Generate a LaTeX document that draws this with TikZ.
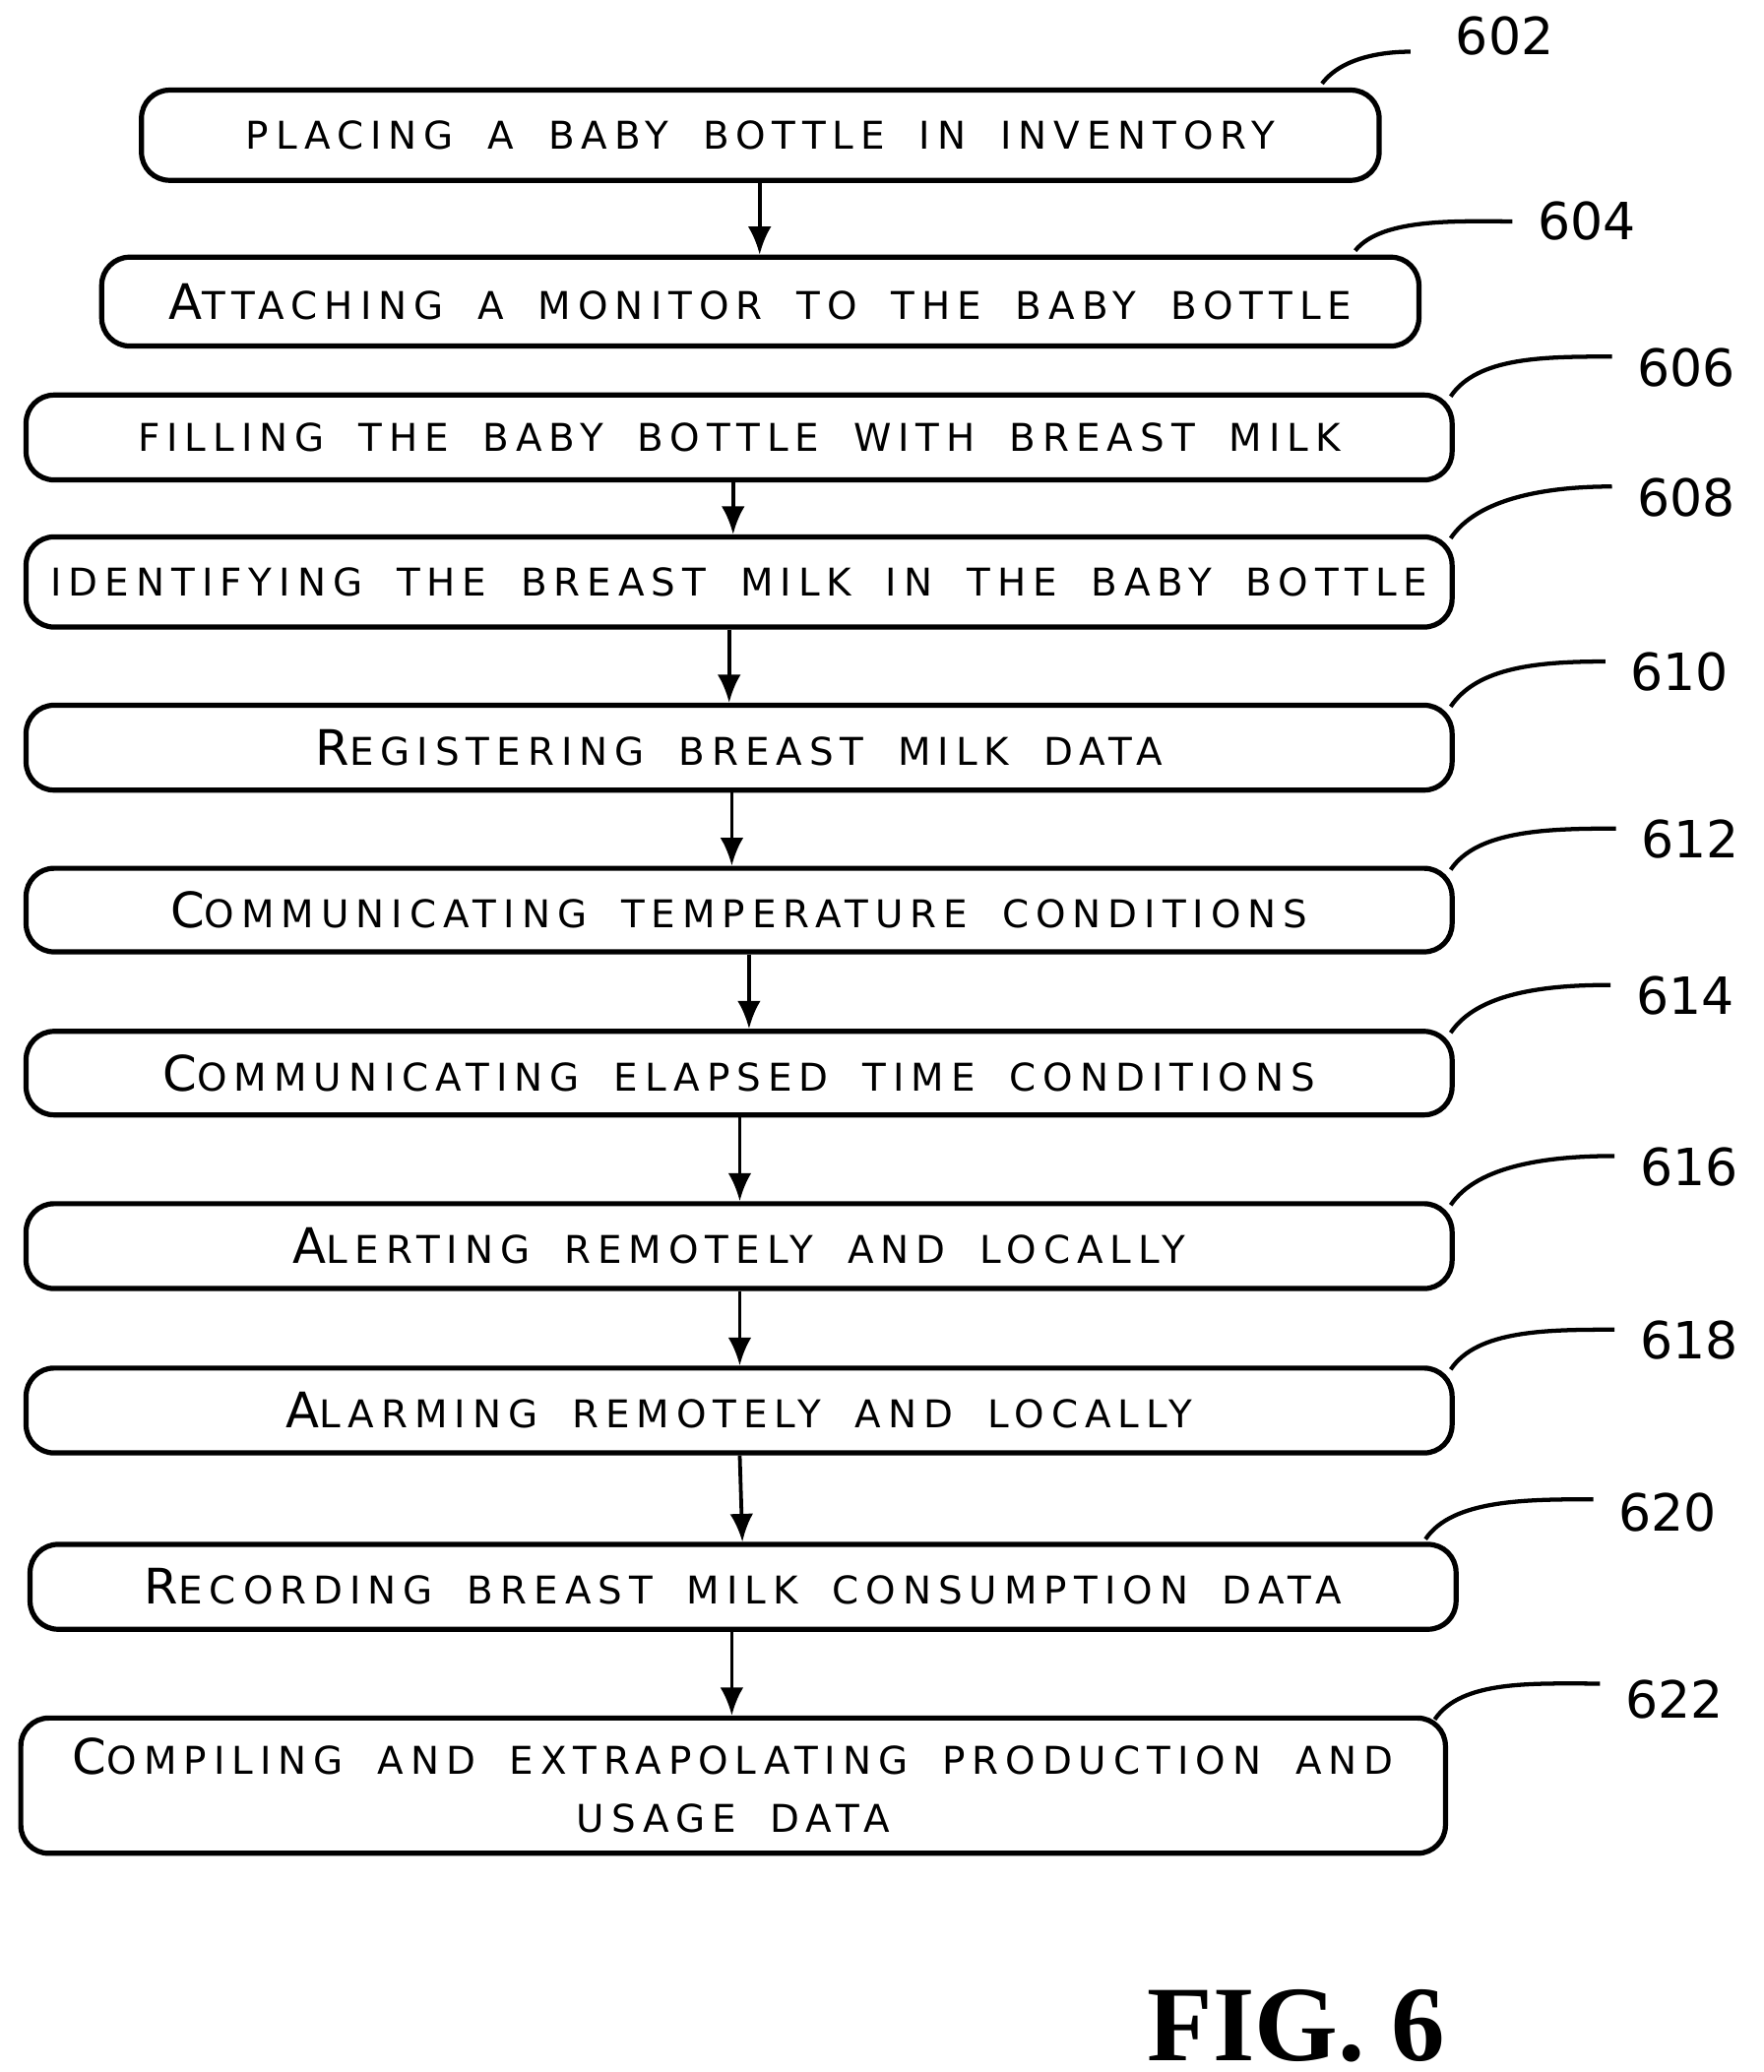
\documentclass[tikz,border=0pt]{standalone}
\usepackage{fontspec}
\setmainfont{Liberation Serif}
\newfontfamily\capfont[LetterSpace=18,WordSpace=1.8]{DejaVu Sans}
\newfontfamily\numfont{DejaVu Sans}
\usetikzlibrary{arrows.meta, positioning, calc}
\tikzset{%
	stepbox/.style={
		draw,
		line width=1.1pt,
		rounded corners=6pt,
		inner sep=0pt,
		align=center,
		font=\capfont\fontsize{8.2}{12.5}\selectfont
	},
	reflabel/.style={
		font=\numfont\fontsize{11}{12}\selectfont,
		inner sep=1pt
	},
	leader/.style={line width=0.9pt},
	flow/.style={-{Latex[length=6pt,width=5pt]}, line width=0.8pt},
}
\newcommand{\initcap}[1]{{\fontsize{10.5}{12}\selectfont #1}}

\begin{document}
\begin{tikzpicture}[x=0.01cm, y=-0.01cm]
			\useasboundingbox (0,0) rectangle (1330,1563);
			% boxes
			\node[stepbox, minimum width=9.33cm, minimum height=0.68cm] (b602) at (573.5,102) {PLACING A BABY BOTTLE IN INVENTORY};
			\node[stepbox, minimum width=9.93cm, minimum height=0.67cm] (b604) at (573.5,227.5) {\initcap{A}TTACHING A MONITOR TO THE BABY BOTTLE};
			\node[stepbox, minimum width=10.75cm, minimum height=0.64cm] (b606) at (557.5,330) {FILLING THE BABY BOTTLE WITH BREAST MILK};
			\node[stepbox, minimum width=10.75cm, minimum height=0.68cm] (b608) at (557.5,439) {IDENTIFYING THE BREAST MILK IN THE BABY BOTTLE};
			\node[stepbox, minimum width=10.75cm, minimum height=0.64cm] (b610) at (557.5,564) {\initcap{R}EGISTERING BREAST MILK DATA};
			\node[stepbox, minimum width=10.75cm, minimum height=0.63cm] (b612) at (557.5,686.5) {\initcap{C}OMMUNICATING TEMPERATURE CONDITIONS};
			\node[stepbox, minimum width=10.75cm, minimum height=0.63cm] (b614) at (557.5,809.5) {\initcap{C}OMMUNICATING ELAPSED TIME CONDITIONS};
			\node[stepbox, minimum width=10.75cm, minimum height=0.64cm] (b616) at (557.5,940) {\initcap{A}LERTING REMOTELY AND LOCALLY};
			\node[stepbox, minimum width=10.75cm, minimum height=0.64cm] (b618) at (557.5,1064) {\initcap{A}LARMING REMOTELY AND LOCALLY};
			\node[stepbox, minimum width=10.75cm, minimum height=0.64cm] (b620) at (560.5,1197) {\initcap{R}ECORDING BREAST MILK CONSUMPTION DATA};
			\node[stepbox, minimum width=10.74cm, minimum height=1.02cm] (b622) at (553,1347) {\initcap{C}OMPILING AND EXTRAPOLATING PRODUCTION AND\\USAGE DATA};
			
			% reference numerals
			\node[reflabel] (l602) at (1135,27) {602};
			\node[reflabel] (l604) at (1197,167) {604};
			\node[reflabel] (l606) at (1272,277) {606};
			\node[reflabel] (l608) at (1272,375) {608};
			\node[reflabel] (l610) at (1267,507) {610};
			\node[reflabel] (l612) at (1275,633) {612};
			\node[reflabel] (l614) at (1271,751) {614};
			\node[reflabel] (l616) at (1274,880) {616};
			\node[reflabel] (l618) at (1274,1011) {618};
			\node[reflabel] (l620) at (1258,1141) {620};
			\node[reflabel] (l622) at (1263,1282) {622};
			
			% leaders
			\draw[leader] ($(b602.north east)+(-45,-3)$) .. controls +(15,-20) and +(-20,0) .. ($(l602.west)+(-30,12)$);
			\draw[leader] ($(b604.north east)+(-50,-3)$) .. controls +(20,-25) and +(-40,0) .. ($(l604.west)+(-15,0)$);
			\foreach \n in {606,608,610,612,614,616,618} {
				\draw[leader] ($(b\n.north east)+(-3,3)$) .. controls +(20,-30) and +(-50,0) .. ($(l\n.west)+(-15,-8)$);
			}
			\draw[leader] ($(b620.north east)+(-25,-2)$) .. controls +(20,-30) and +(-50,0) .. ($(l620.west)+(-15,-10)$);
			\draw[leader] ($(b622.north east)+(-10,3)$) .. controls +(20,-30) and +(-50,0) .. ($(l622.west)+(-15,-12)$);
			
			% flow arrows
			\draw[flow] (b602.south -| 573,0) -- (b604.north -| 573,0);
			\draw[flow] (b606.south -| 553,0) -- (b608.north -| 553,0);
			\draw[flow] (b608.south -| 550,0) -- (b610.north -| 550,0);
			\draw[flow] (b610.south -| 552,0) -- (b612.north -| 552,0);
			\draw[flow] (b612.south -| 565,0) -- (b614.north -| 565,0);
			\draw[flow] (b614.south -| 558,0) -- (b616.north -| 558,0);
			\draw[flow] (b616.south -| 558,0) -- (b618.north -| 558,0);
			\draw[flow] (b618.south -| 558,0) -- (b620.north -| 560,0);
			\draw[flow] (b620.south -| 552,0) -- (b622.north -| 552,0);
			
			\node[font=\fontsize{23}{25}\selectfont\bfseries] (fig) at (978,1528) {FIG. 6};
		\end{tikzpicture}
\end{document}
